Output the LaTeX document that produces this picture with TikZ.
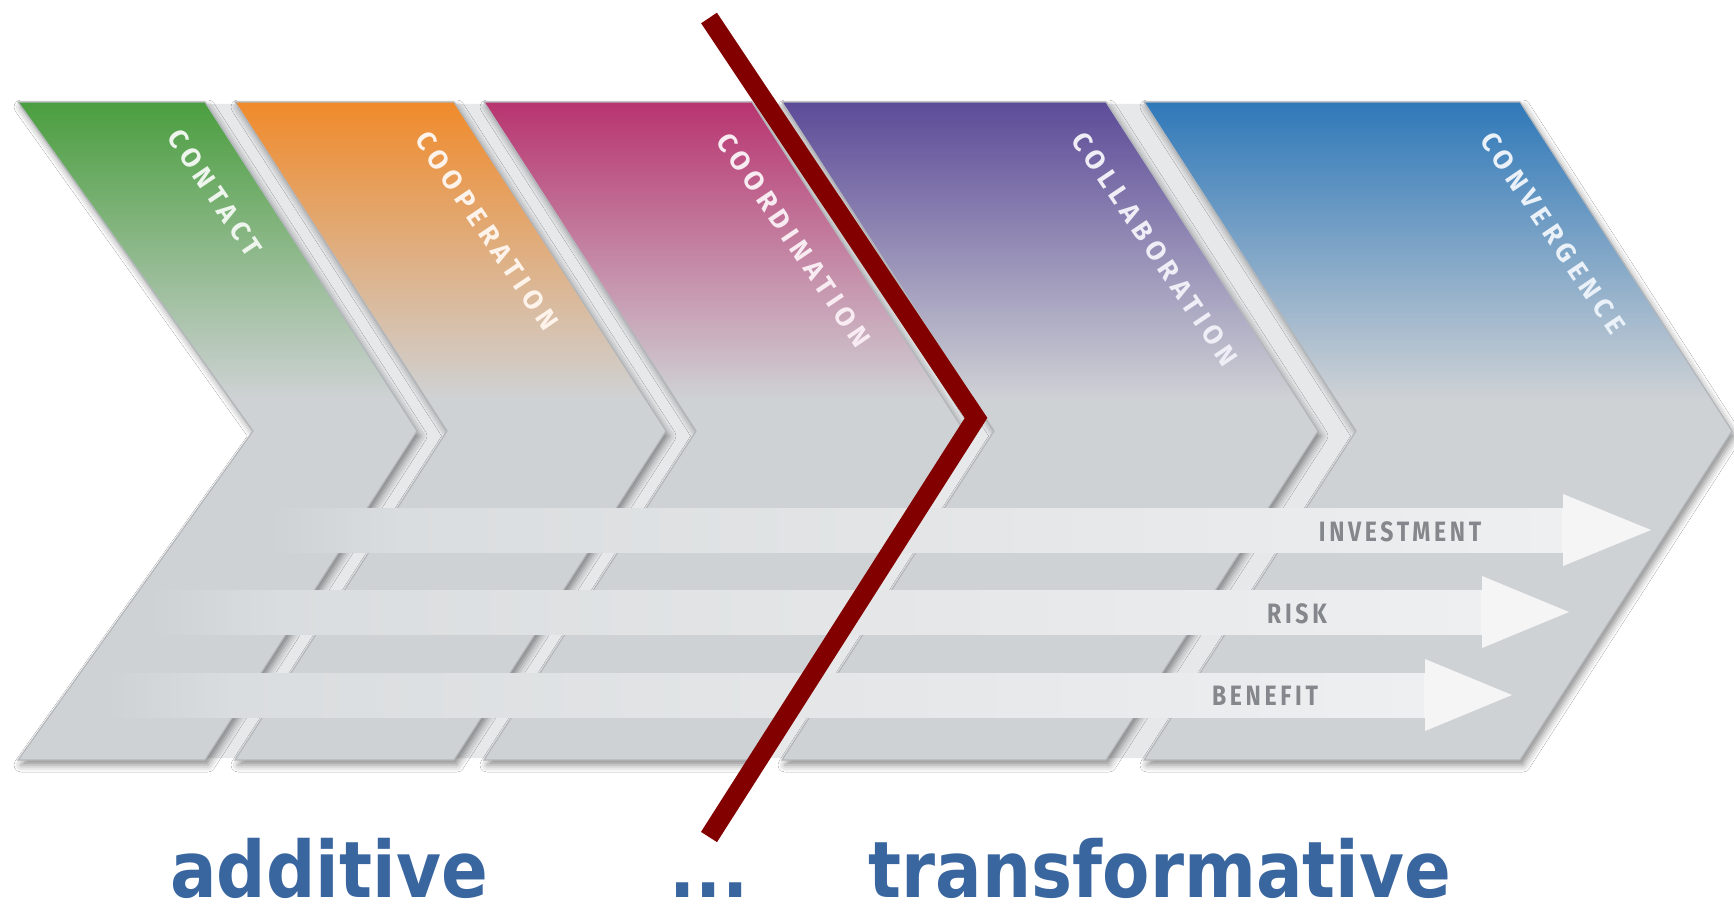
\documentclass[tikz,border=0pt]{standalone}
\usepackage{fontspec}
\setmainfont{DejaVu Sans}
\newfontfamily\labfont{Fira Sans}[LetterSpace=22]
\newfontfamily\bandfont{Fira Sans}[LetterSpace=16]
\newfontfamily\bigfont{DejaVu Sans}
\usetikzlibrary{shadows.blur}
\definecolor{chevgray}{HTML}{CFD2D5}
\definecolor{edgegray}{HTML}{B3B7BB}
\definecolor{cgreen}{HTML}{4A9E3E}
\definecolor{corange}{HTML}{F08A2A}
\definecolor{cmagenta}{HTML}{B8336F}
\definecolor{cpurple}{HTML}{5C4A98}
\definecolor{cblue}{HTML}{2E78B9}
\definecolor{redline}{HTML}{830000}
\definecolor{bandtext}{HTML}{84878B}
\definecolor{bottomblue}{HTML}{3A66A0}
\definecolor{bandmid}{HTML}{DADDDF}
\definecolor{bandend}{HTML}{EEEFF0}
\definecolor{bandhead}{HTML}{F5F5F5}
\definecolor{gapgray}{HTML}{E6E8EA}
\newcommand\chevshape[4]{%
  \path[fill=chevgray, blur shadow={shadow xshift=3pt, shadow yshift=-5pt, shadow blur radius=7pt, shadow opacity=45}]
    (#1,102) -- (#2,102) -- ({#2+212},431) -- (#2,760) -- (#1,760) -- ({#1+#3},431) -- cycle;
  \begin{scope}
    \clip (#1,102) -- (#2,102) -- ({#2+212},431) -- (#2,760) -- (#1,760) -- ({#1+#3},431) -- cycle;
    \shade[top color=#4, bottom color=chevgray] ({#1-5},100) rectangle ({#2+215},400);
  \end{scope}
  \draw[edgegray, line width=1.2pt, line join=miter]
    (#1,102) -- (#2,102) -- ({#2+212},431) -- (#2,760) -- (#1,760) -- ({#1+#3},431) -- cycle;
}
\newcommand\gapshape[2]{%
  \fill[gapgray] (#1,104) -- (#2,104) -- ({#2+212},431) -- (#2,758) -- (#1,758) -- ({#1+212},431) -- cycle;
}
\newcommand\bandshape[4]{%
  \shade[left color=chevgray, right color=bandmid] (#1,{#2-22}) rectangle ({#1+130},{#2+22});
  \shade[left color=bandmid, right color=bandend] ({#1+129},{#2-22}) rectangle (#3,{#2+22});
  \fill[bandhead] ({#3-1},{#2-22}) -- (#3,{#2-22}) -- (#3,{#2-36}) -- (#4,#2) -- (#3,{#2+36}) -- (#3,{#2+22}) -- ({#3-1},{#2+22}) -- cycle;
}
\tikzset{
  chevlab/.style={font={\labfont\bfseries\fontsize{27}{27}\selectfont}, rotate=-56, inner sep=0pt, anchor=center},
  bandlab/.style={font={\bandfont\bfseries\fontsize{28}{28}\selectfont}, text=bandtext, xscale=0.82, inner sep=0pt},
  bottomlab/.style={font={\bigfont\bfseries\fontsize{78}{80}\selectfont}, text=bottomblue, xscale=0.885, anchor=base, inner sep=0pt},
  divider/.style={draw=redline, line width=19pt, line join=miter}
}
\begin{document}
\begin{tikzpicture}[x=1pt, y=-1pt]
\useasboundingbox (0,0) rectangle (1734,909);
\fill[white] (0,0) rectangle (1734,909);
% light gaps between the chevrons
\gapshape{200}{240}
\gapshape{449}{489}
\gapshape{747}{787}
\gapshape{1101}{1149}
% chevrons
\chevshape{18}{205}{235}{cgreen}
\chevshape{235}{454}{212}{corange}
\chevshape{484}{752}{212}{cmagenta}
\chevshape{782}{1106}{212}{cpurple}
\chevshape{1144}{1520}{212}{cblue}
% labels on chevrons
\node[chevlab, text=cgreen!10!white] (contact) at (215,193) {CONTACT};
\node[chevlab, text=corange!10!white] (cooperation) at (487,231) {COOPERATION};
\node[chevlab, text=cmagenta!10!white] (coordination) at (794,240) {COORDINATION};
\node[chevlab, text=cpurple!10!white] (collaboration) at (1155,249) {COLLABORATION};
\node[chevlab, text=cblue!10!white] (convergence) at (1553,233) {CONVERGENCE};
% bands
\bandshape{270}{530}{1563}{1651}
\bandshape{150}{612}{1482}{1569}
\bandshape{105}{695}{1425}{1512}
\node[bandlab] (investment) at (1400,532) {INVESTMENT};
\node[bandlab] (risk) at (1297,614) {RISK};
\node[bandlab] (benefit) at (1265,696) {BENEFIT};
% divider
\coordinate (dtop) at (709,18);
\coordinate (dtip) at (976,418);
\coordinate (dbot) at (709,837);
\draw[divider] (dtop) -- (dtip) -- (dbot);
% bottom texts
\node[bottomlab] (additive) at (329,897) {additive};
\node[bottomlab] (dots) at (709,897) {...};
\node[bottomlab] (transformative) at (1160,897) {transformative};
\end{tikzpicture}
\end{document}
